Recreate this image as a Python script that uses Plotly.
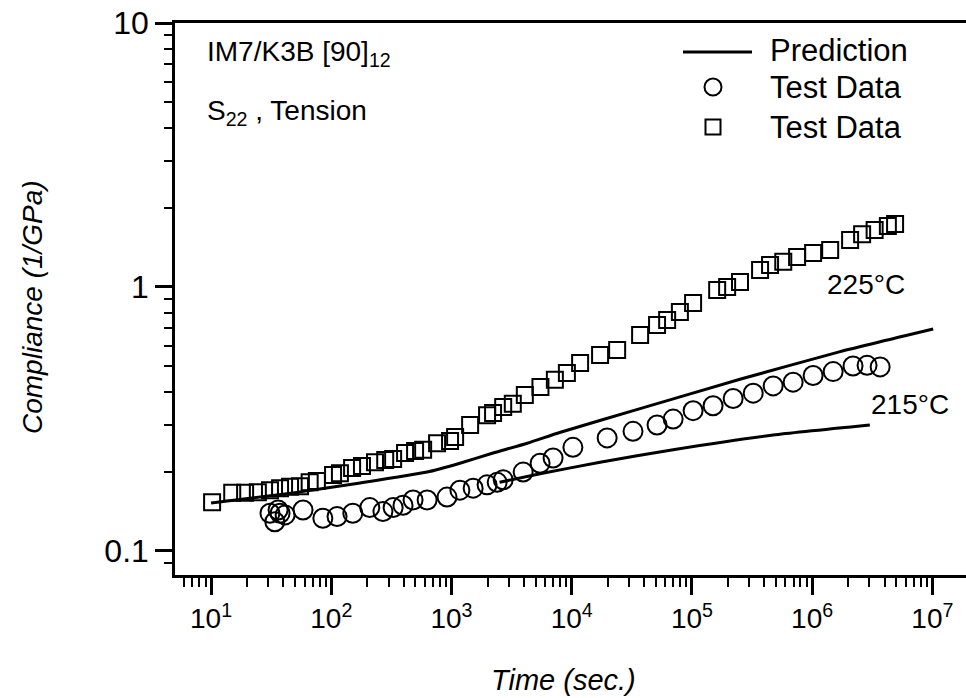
import plotly.graph_objects as go

# ---- data (time in s, compliance in 1/GPa) ----
sq_time = [10.2, 15.0, 19.2, 24.5, 30.9, 37.5, 45.4, 55.0, 66.1, 75.9, 103.5, 118, 149, 180,
           231, 281, 327, 411, 498, 581, 759, 973, 1072, 1429, 1977, 2218, 2692, 3236, 4074,
           5495, 7244, 9120, 11750, 17220, 23880, 37070, 51290, 62230, 79430, 102300, 162200,
           196300, 251200, 369000, 446700, 575400, 749900, 1.019e6, 1.413e6, 2.07e6, 2.606e6,
           3.311e6, 4.266e6, 4.898e6]
sq_comp = [0.153, 0.166, 0.166, 0.167, 0.170, 0.173, 0.175, 0.176, 0.182, 0.184, 0.194, 0.197,
           0.206, 0.210, 0.217, 0.221, 0.223, 0.235, 0.239, 0.242, 0.256, 0.261, 0.270, 0.300,
           0.327, 0.333, 0.351, 0.361, 0.390, 0.418, 0.445, 0.472, 0.515, 0.552, 0.577, 0.658,
           0.718, 0.750, 0.804, 0.869, 0.975, 1.0, 1.045, 1.159, 1.211, 1.245, 1.30, 1.346,
           1.380, 1.507, 1.585, 1.644, 1.702, 1.734]

ci_time = [30.9, 33.9, 36.1, 37.5, 41.3, 58.2, 85.1, 111.7, 151, 209, 269, 327, 395, 479, 627,
           918, 1175, 1514, 1977, 2399, 2692, 3945, 5458, 7000, 10230, 19720, 32360, 51290,
           69820, 102300, 150000, 220300, 323600, 474200, 695000, 1.019e6, 1.496e6, 2.188e6,
           2.864e6, 3.68e6]
ci_comp = [0.139, 0.129, 0.143, 0.139, 0.137, 0.143, 0.133, 0.135, 0.139, 0.146, 0.141, 0.146,
           0.149, 0.156, 0.156, 0.160, 0.170, 0.173, 0.178, 0.182, 0.186, 0.199, 0.215, 0.225,
           0.247, 0.268, 0.284, 0.300, 0.316, 0.340, 0.355, 0.378, 0.396, 0.422, 0.436, 0.462,
           0.478, 0.502, 0.505, 0.498]

pred225_time = [10, 48.1, 174, 627, 1175, 2218, 4266, 7943, 37070, 251200, 1.71e6, 1.016e7]
pred225_comp = [0.152, 0.166, 0.181, 0.199, 0.215, 0.235, 0.256, 0.281, 0.346, 0.447, 0.569, 0.693]

pred215_time = [2512, 5458, 17220, 69820, 474200, 3.02e6]
pred215_comp = [0.182, 0.196, 0.217, 0.242, 0.275, 0.300]

x_tickvals = [1e1, 1e2, 1e3, 1e4, 1e5, 1e6, 1e7]
x_ticktext = ["10<sup>1</sup>", "10<sup>2</sup>", "10<sup>3</sup>", "10<sup>4</sup>",
              "10<sup>5</sup>", "10<sup>6</sup>", "10<sup>7</sup>"]
x_minorvals = [m * 10 ** e for e in range(0, 8) for m in range(2, 10)]
y_tickvals = [0.1, 1, 10]
y_ticktext = ["0.1", "1", "10"]
y_minorvals = [m * 10 ** e for e in (-2, -1, 0) for m in range(2, 10)]

FONT = "Liberation Sans, Arial, sans-serif"
BLACK = "#000000"

fig = go.Figure()
fig.add_trace(go.Scatter(x=pred225_time, y=pred225_comp, mode="lines",
                         line=dict(color=BLACK, width=3, shape="spline", smoothing=0.5),
                         showlegend=False))
fig.add_trace(go.Scatter(x=pred215_time, y=pred215_comp, mode="lines",
                         line=dict(color=BLACK, width=3, shape="spline", smoothing=0.5),
                         showlegend=False))
fig.add_trace(go.Scatter(x=sq_time, y=sq_comp, mode="markers",
                         marker=dict(symbol="square-open", size=16, color=BLACK,
                                     line=dict(width=2, color=BLACK)), showlegend=False))
fig.add_trace(go.Scatter(x=ci_time, y=ci_comp, mode="markers",
                         marker=dict(symbol="circle-open", size=19, color=BLACK,
                                     line=dict(width=2, color=BLACK)), showlegend=False))

fig.update_layout(
    width=966, height=698,
    margin=dict(l=175, r=0, t=23, b=123),
    paper_bgcolor="white", plot_bgcolor="white",
    font=dict(family=FONT, size=28, color=BLACK),
    xaxis=dict(type="log", range=[0.70, 7.28], tickvals=x_tickvals, ticktext=x_ticktext,
               ticks="outside", ticklen=17, tickwidth=2.5, tickcolor=BLACK,
               showline=True, linewidth=2.5, linecolor=BLACK, mirror=True,
               showgrid=False, zeroline=False, tickfont=dict(size=28),
               minor=dict(tickmode="array", tickvals=x_minorvals, ticks="outside",
                          ticklen=9, tickwidth=2, tickcolor=BLACK, showgrid=False)),
    yaxis=dict(type="log", range=[-1.091, 1.0], tickvals=y_tickvals, ticktext=y_ticktext,
               ticks="outside", ticklen=17, tickwidth=2.5, tickcolor=BLACK,
               showline=True, linewidth=2.5, linecolor=BLACK,
               showgrid=False, zeroline=False, tickfont=dict(size=32),
               minor=dict(tickmode="array", tickvals=y_minorvals, ticks="outside",
                          ticklen=8, tickwidth=2, tickcolor=BLACK, showgrid=False)),
)

ann = [
    dict(text="<i>Time (sec.)</i>", x=(563 - 175) / 791, y=-(680 - 575) / 552,
         xref="paper", yref="paper", showarrow=False, font=dict(size=29),
         xanchor="center", yanchor="middle"),
    dict(text="<i>Compliance (1/GPa)</i>", x=-(175 - 32) / 791, y=(575 - 307) / 552,
         xref="paper", yref="paper", showarrow=False, font=dict(size=28), textangle=-90,
         xanchor="center", yanchor="middle"),
    dict(text="IM7/K3B [90]<sub>12</sub>", x=(205 - 175) / 791, y=(575 - 53) / 552,
         xref="paper", yref="paper", showarrow=False, font=dict(size=28),
         xanchor="left", yanchor="middle"),
    dict(text="S<sub>22</sub> , Tension", x=(205 - 175) / 791, y=(575 - 112) / 552,
         xref="paper", yref="paper", showarrow=False, font=dict(size=28),
         xanchor="left", yanchor="middle"),
    dict(text="225°C", x=6.449, y=0.0076, xref="x", yref="y", showarrow=False,
         font=dict(size=28), xanchor="center", yanchor="middle"),
    dict(text="215°C", x=6.815, y=-0.447, xref="x", yref="y", showarrow=False,
         font=dict(size=28), xanchor="center", yanchor="middle"),
    dict(text="Prediction", x=(768 - 175) / 791, y=(575 - 50) / 552,
         xref="paper", yref="paper", showarrow=False, font=dict(size=31),
         xanchor="left", yanchor="middle"),
    dict(text="Test Data", x=(768 - 175) / 791, y=(575 - 88) / 552,
         xref="paper", yref="paper", showarrow=False, font=dict(size=31),
         xanchor="left", yanchor="middle"),
    dict(text="Test Data", x=(768 - 175) / 791, y=(575 - 128) / 552,
         xref="paper", yref="paper", showarrow=False, font=dict(size=31),
         xanchor="left", yanchor="middle"),
]
fig.update_layout(annotations=ann)

lx = (713 - 175) / 791
shapes = [
    dict(type="line", xref="paper", yref="paper", x0=(683 - 175) / 791, x1=(752 - 175) / 791,
         y0=(575 - 52) / 552, y1=(575 - 52) / 552, line=dict(color=BLACK, width=3)),
    dict(type="circle", xref="paper", yref="paper", xsizemode="pixel", ysizemode="pixel",
         xanchor=lx, yanchor=(575 - 87) / 552, x0=-8.5, x1=8.5, y0=-8.5, y1=8.5,
         line=dict(color=BLACK, width=2)),
    dict(type="rect", xref="paper", yref="paper", xsizemode="pixel", ysizemode="pixel",
         xanchor=lx, yanchor=(575 - 127) / 552, x0=-7.5, x1=7.5, y0=-7.5, y1=7.5,
         line=dict(color=BLACK, width=2)),
]
fig.update_layout(shapes=shapes)

fig.write_html("out.html")
